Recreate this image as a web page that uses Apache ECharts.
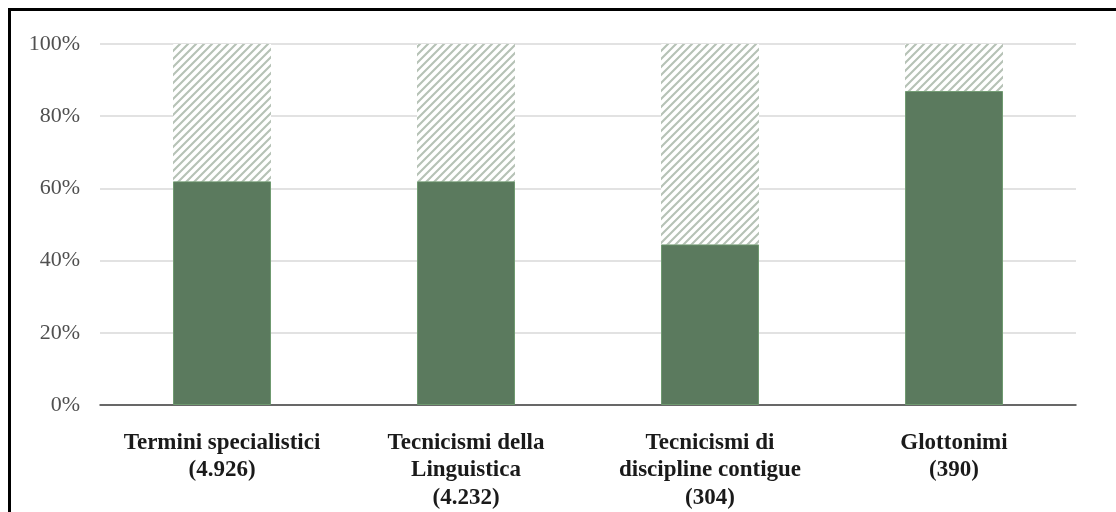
<!DOCTYPE html>
<html>
<head>
<meta charset="utf-8">
<script src="https://cdn.jsdelivr.net/npm/echarts@6/dist/echarts.min.js"></script>
<style>
html,body{margin:0;padding:0;background:#fff;}
#chart{width:1116px;height:512px;}
</style>
</head>
<body>
<div id="chart"></div>
<script>
const categories = [
  "Termini specialistici\n(4.926)",
  "Tecnicismi della\nLinguistica\n(4.232)",
  "Tecnicismi di\ndiscipline contigue\n(304)",
  "Glottonimi\n(390)"
];
const solidValues = [62, 62, 44.5, 87];
const hatchValues = [38, 38, 55.5, 13];
const yTicks = [0, 20, 40, 60, 80, 100];

function makeHatch() {
  const c = document.createElement('canvas');
  const s = 8;
  c.width = s; c.height = s;
  const ctx = c.getContext('2d');
  ctx.fillStyle = '#ffffff';
  ctx.fillRect(0, 0, s, s);
  ctx.strokeStyle = '#b6c2b6';
  ctx.lineWidth = 2.1;
  ctx.beginPath();
  ctx.moveTo(-1, s + 1); ctx.lineTo(s + 1, -1);
  ctx.moveTo(-2, 2); ctx.lineTo(2, -2);
  ctx.moveTo(s - 2, s + 2); ctx.lineTo(s + 2, s - 2);
  ctx.stroke();
  return c;
}

const chart = echarts.init(document.getElementById('chart'));
chart.setOption({
  animation: false,
  backgroundColor: '#ffffff',
  grid: { left: 100, right: 40, top: 44, bottom: 107, containLabel: false },
  xAxis: {
    type: 'category',
    data: categories,
    axisLine: { show: true, lineStyle: { color: '#404040', width: 1.5 } },
    axisTick: { show: false },
    axisLabel: {
      interval: 0,
      margin: 24,
      color: '#1a1a1a',
      fontFamily: 'Liberation Serif, serif',
      fontWeight: 'bold',
      fontSize: 23,
      lineHeight: 27.5
    }
  },
  yAxis: {
    type: 'value',
    min: 0, max: 100, interval: 20,
    axisLine: { show: false },
    axisTick: { show: false },
    splitLine: { lineStyle: { color: '#d9d9d9', width: 1.5 } },
    axisLabel: {
      margin: 20,
      color: '#505050',
      fontFamily: 'Liberation Serif, serif',
      fontSize: 22,
      formatter: v => yTicks.includes(v) ? v + '%' : ''
    }
  },
  series: [
    {
      type: 'bar',
      stack: 'total',
      data: solidValues,
      barWidth: 98,
      itemStyle: { color: '#5b7a5e', borderColor: '#6f9a70', borderWidth: 1 }
    },
    {
      type: 'bar',
      stack: 'total',
      data: hatchValues,
      barWidth: 98,
      itemStyle: { color: { image: makeHatch(), repeat: 'repeat' } }
    }
  ],
  graphic: [
    { type: 'rect', shape: { x: 8, y: 8, width: 1108, height: 3 }, style: { fill: '#000' }, z: 100 },
    { type: 'rect', shape: { x: 8, y: 8, width: 3, height: 504 }, style: { fill: '#000' }, z: 100 }
  ]
});
</script>
</body>
</html>
